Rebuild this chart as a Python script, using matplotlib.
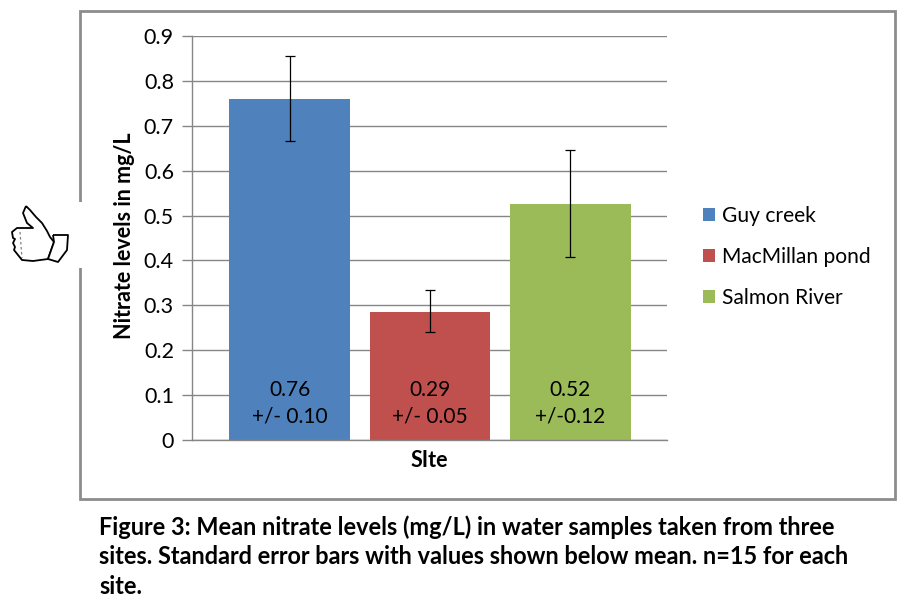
import matplotlib
matplotlib.use("Agg")
import matplotlib.pyplot as plt
from matplotlib.patches import Rectangle, PathPatch
from matplotlib.path import Path
from matplotlib.lines import Line2D

plt.rcParams['font.family'] = ['Lato', 'DejaVu Sans']

sites = ["Guy creek", "MacMillan pond", "Salmon River"]
means = [0.76, 0.285, 0.525]
err_low = [0.095, 0.045, 0.118]
err_high = [0.095, 0.05, 0.122]
colors = ["#4F81BD", "#C0504D", "#9BBB59"]
bar_labels = ["0.76\n+/- 0.10", "0.29\n+/- 0.05", "0.52\n+/-0.12"]
y_ticks = [0, 0.1, 0.2, 0.3, 0.4, 0.5, 0.6, 0.7, 0.8, 0.9]
y_labels = ["0", "0.1", "0.2", "0.3", "0.4", "0.5", "0.6", "0.7", "0.8", "0.9"]
caption = ["Figure 3: Mean nitrate levels (mg/L) in water samples taken from three",
           "sites. Standard error bars with values shown below mean. n=15 for each",
           "site."]

W, H = 905, 607
GRAY = "#868686"

def fx(px):
    return px / W

def fy(py):
    return 1 - py / H

fig = plt.figure(figsize=(W / 100, H / 100), dpi=100)

# outer frame of the pasted chart, kept behind the axes
fig.add_artist(Rectangle((fx(80), fy(499)), fx(815), 488 / H, transform=fig.transFigure,
                         fc="white", ec="#8C8C8C", lw=2, zorder=-2))
# frame is cut out next to the thumb icon
fig.add_artist(Rectangle((fx(77), fy(268)), fx(6), 66 / H, transform=fig.transFigure,
                         fc="white", ec="none", zorder=-1))

ax = fig.add_axes([fx(192), fy(440), fx(475), 404 / H])
ax.patch.set_alpha(0)
ax.set_axisbelow(True)
ax.yaxis.grid(True, color=GRAY, lw=1)

for i in range(3):
    ax.bar(i, means[i], width=0.86, color=colors[i], label=sites[i])
    ax.errorbar(i, means[i], yerr=[[err_low[i]], [err_high[i]]], color="black",
                lw=0.9, capsize=3.5, capthick=0.9)
    ax.text(i, 0.081, bar_labels[i], ha="center", va="center", fontsize=15,
            color="black", linespacing=1.4)

ax.set_xlim(-0.694, 2.687)
ax.set_ylim(0, 0.9)
ax.set_yticks(y_ticks)
ax.set_yticklabels(y_labels, fontsize=15.5)
ax.set_xticks([])
for s in ["top", "right"]:
    ax.spines[s].set_visible(False)
for s in ["left", "bottom"]:
    ax.spines[s].set_color(GRAY)
    ax.spines[s].set_linewidth(1)
ax.tick_params(axis="y", length=7, width=1, color=GRAY, pad=6)
ax.set_ylabel("Nitrate levels in mg/L", fontsize=15.5, fontweight="bold")
ax.yaxis.set_label_coords(-0.119, 0.505)
ax.set_xlabel("SIte", fontsize=15.5, fontweight="bold", labelpad=7)

fig.legend(*ax.get_legend_handles_labels(), loc="center left",
           bbox_to_anchor=(fx(684), fy(257)), frameon=False, fontsize=15.1,
           handlelength=0.58, handleheight=0.58, handletextpad=0.32, labelspacing=1.0)

for i, line in enumerate(caption):
    fig.text(fx(99), fy(527 + 30 * i), line, fontsize=16.95, fontweight="bold",
             va="center", ha="left")

# thumbs-up icon
hand = [(26, 206), (30, 210), (36, 217), (42, 223), (47, 231), (50, 237), (54, 242),
        (48, 259), (33, 261), (22, 260), (18, 255), (14, 250), (15, 247), (13, 243),
        (15, 239), (13, 238), (12, 232), (17, 228), (33, 228), (27, 223), (23, 213),
        (26, 206)]
cuff = [(53, 235), (68, 235), (67, 250), (58, 262), (48, 259), (54, 242), (53, 235)]
for pts in (hand, cuff):
    codes = [Path.MOVETO] + [Path.LINETO] * (len(pts) - 1)
    verts = [(fx(x), fy(y)) for x, y in pts]
    fig.add_artist(PathPatch(Path(verts, codes), transform=fig.transFigure, fc="white",
                             ec="black", lw=1.3, joinstyle="round", zorder=4))
fig.add_artist(Line2D([fx(20), fx(22)], [fy(232), fy(258)], transform=fig.transFigure,
                      color="#808080", lw=0.9, ls=(0, (2, 2)), zorder=5))

fig.savefig("out.png", dpi=100)
